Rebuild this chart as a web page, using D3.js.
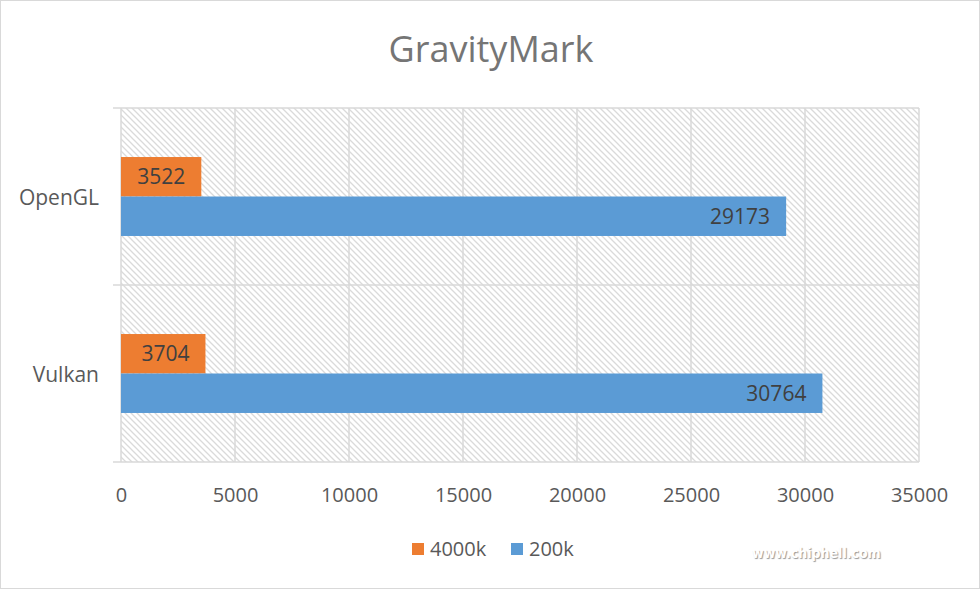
<!DOCTYPE html>
<meta charset="utf-8">
<title>GravityMark</title>
<style>
body { margin: 0; background: white; }
svg { font-family: 'Open Sans', sans-serif; }
.wm { font-family: 'DejaVu Sans Condensed', 'DejaVu Sans', sans-serif; font-weight: bold; }
</style>
<body>
<div id="chart"></div>
<script src="https://d3js.org/d3.v7.min.js"></script>
<script>

// data
var categories = ["OpenGL", "Vulkan"];
var seriesNames = ["4000k", "200k"];
var values4000k = [3522, 3704];
var values200k = [29173, 30764];
var xTicks = [0, 5000, 10000, 15000, 20000, 25000, 30000, 35000];

var colors = {"4000k": "#ED7D31", "200k": "#5B9BD5"};
var width = 980, height = 589;
var plot = {left: 121, right: 919, top: 108, bottom: 462};

var svg = d3.select("#chart").append("svg")
    .attr("width", width)
    .attr("height", height);

// hatch fill for plot area
var defs = svg.append("defs");
var pat = defs.append("pattern")
    .attr("id", "hatch")
    .attr("patternUnits", "userSpaceOnUse")
    .attr("width", 6)
    .attr("height", 6);
pat.append("rect").attr("width", 6).attr("height", 6).attr("fill", "white");
pat.append("path")
    .attr("d", "M-1,-1 L7,7 M-4,2 L2,8 M4,-2 L8,2")
    .attr("stroke", "#dadada")
    .attr("stroke-width", 1.3);

// outer border
svg.append("rect")
    .attr("x", 0.5).attr("y", 0.5)
    .attr("width", width - 1).attr("height", height - 1)
    .attr("fill", "white")
    .attr("stroke", "#d9d9d9");

// title
svg.append("text")
    .attr("x", 491).attr("y", 62)
    .attr("text-anchor", "middle")
    .style("font-size", "36px")
    .attr("fill", "#757575")
    .text("GravityMark");

var x = d3.scaleLinear()
    .domain([0, 35000])
    .range([plot.left, plot.right]);

var y = d3.scaleBand()
    .domain(categories)
    .range([plot.top, plot.bottom]);

var bw = y.bandwidth();
var ySub = d3.scaleBand()
    .domain(seriesNames)
    .range([bw * 0.277, bw * 0.723]);

svg.append("rect")
    .attr("x", plot.left).attr("y", plot.top)
    .attr("width", plot.right - plot.left)
    .attr("height", plot.bottom - plot.top)
    .attr("fill", "url(#hatch)");

// vertical grid
svg.append("g")
  .selectAll("line")
  .data(xTicks)
  .enter().append("line")
    .attr("x1", function(d) { return x(d); })
    .attr("x2", function(d) { return x(d); })
    .attr("y1", plot.top)
    .attr("y2", plot.bottom)
    .attr("stroke", "#d9d9d9")
    .attr("stroke-width", 1.5);

// category boundaries
var bounds = categories.map(function(c) { return y(c); }).concat([plot.bottom]);
svg.append("g")
  .selectAll("line")
  .data(bounds)
  .enter().append("line")
    .attr("x1", plot.left - 8)
    .attr("x2", plot.right)
    .attr("y1", function(d) { return d; })
    .attr("y2", function(d) { return d; })
    .attr("stroke", "#d9d9d9")
    .attr("stroke-width", 1.5);

// x tick labels
var xAxis = svg.append("g")
    .attr("transform", "translate(0," + (plot.bottom + 40) + ")")
    .call(d3.axisBottom(x).tickValues(xTicks).tickSize(0).tickPadding(0).tickFormat(d3.format("d")));
xAxis.select(".domain").remove();
xAxis.selectAll("text")
    .attr("dy", "0")
    .style("font-size", "20px")
    .style("font-family", "'Open Sans', sans-serif")
    .attr("fill", "#595959");

// category labels
var yAxis = svg.append("g")
    .attr("transform", "translate(" + (plot.left - 22) + ",0)")
    .call(d3.axisLeft(y).tickSize(0).tickPadding(0));
yAxis.select(".domain").remove();
yAxis.selectAll("text")
    .attr("dy", "0.35em")
    .attr("y", 1)
    .style("font-size", "21px")
    .style("font-family", "'Open Sans', sans-serif")
    .attr("fill", "#595959");

// bars
var rows = [];
categories.forEach(function(c, i) {
  rows.push({cat: c, series: "4000k", value: values4000k[i]});
  rows.push({cat: c, series: "200k", value: values200k[i]});
});

svg.append("g")
  .selectAll("rect")
  .data(rows)
  .enter().append("rect")
    .attr("x", x(0))
    .attr("y", function(d) { return y(d.cat) + ySub(d.series); })
    .attr("width", function(d) { return x(d.value) - x(0); })
    .attr("height", ySub.bandwidth())
    .attr("fill", function(d) { return colors[d.series]; });

// data labels (inside end)
svg.append("g")
  .selectAll("text")
  .data(rows)
  .enter().append("text")
    .attr("x", function(d) { return x(d.value) - 16; })
    .attr("y", function(d) { return y(d.cat) + ySub(d.series) + ySub.bandwidth() / 2; })
    .attr("dy", "0.36em")
    .attr("text-anchor", "end")
    .style("font-size", "21px")
    .attr("fill", "#404040")
    .text(function(d) { return d.value; });

// legend
var legend = svg.append("g");
var legendX = [412, 511];
seriesNames.forEach(function(s, i) {
  legend.append("rect")
    .attr("x", legendX[i]).attr("y", 543)
    .attr("width", 12).attr("height", 12)
    .attr("fill", colors[s]);
  legend.append("text")
    .attr("x", legendX[i] + 18).attr("y", 556)
    .style("font-size", "20px")
    .attr("fill", "#595959")
    .text(s);
});

// watermark
svg.append("text")
    .attr("class", "wm")
    .attr("x", 752).attr("y", 558)
    .style("font-size", "14px")
    .attr("fill", "white")
    .style("text-shadow", "1px 1px 1px #999")
    .text("www.chiphell.com");

</script>
</body>
